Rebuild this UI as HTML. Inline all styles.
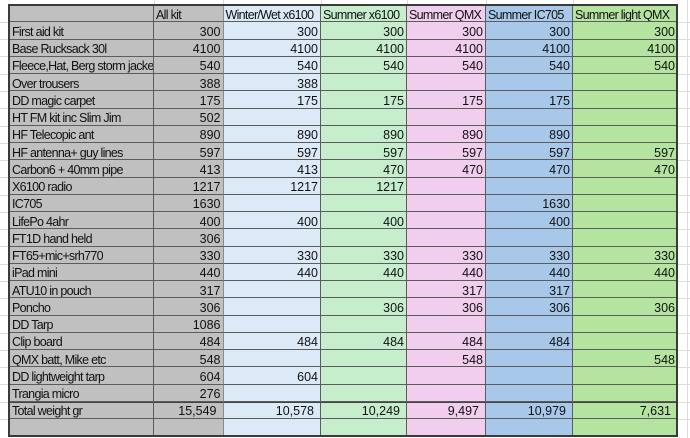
<!DOCTYPE html>
<html><head><meta charset="utf-8"><style>
html,body{margin:0;padding:0;background:#fff;}
body{width:690px;height:438px;position:relative;overflow:hidden;font-family:"Liberation Sans",Arial,sans-serif;color:#111;}
.gl{position:absolute;background:#dcdcdc;}
#grid{position:absolute;left:9px;top:5px;width:668px;height:432px;display:grid;
grid-template-columns:145px 69.5px 97.5px 86px 79px 87px 104px;grid-auto-rows:17.25px;overflow:hidden;}
#grid>div{box-sizing:border-box;border-bottom:1px solid #5c5c5c;border-right:1px solid #5c5c5c;overflow:hidden;white-space:nowrap;
padding:2.7px 2px 0 3px;line-height:15px;font-size:12.5px;letter-spacing:-0.7px;}
#grid>div:nth-child(7n+1){background:#c0c0c0;}
#grid>div:nth-child(7n+2){background:#c0c0c0;border-right-color:#8a8a8a;text-align:right;font-size:12.5px;letter-spacing:0;}
#grid>div:nth-child(7n+3){background:#dce9f7;text-align:right;font-size:12.5px;letter-spacing:0;}
#grid>div:nth-child(7n+4){background:#c6eecc;text-align:right;font-size:12.5px;letter-spacing:0;}
#grid>div:nth-child(7n+5){background:#f1cdee;text-align:right;font-size:12.5px;letter-spacing:0;}
#grid>div:nth-child(7n+6){background:#a8c8ea;text-align:right;font-size:12.5px;letter-spacing:0;}
#grid>div:nth-child(7n+7){background:#b5e4a0;text-align:right;font-size:12.5px;letter-spacing:0;border-right:none;}
#grid>div.h{text-align:left !important;font-size:12.5px !important;letter-spacing:-0.7px !important;padding-left:2px;}
#grid>div.t{padding-right:6px;}
#grid>div.tt{border-top:1px solid #444;padding-top:1.7px;}
#outer{position:absolute;left:8px;top:4px;width:670px;height:433px;box-sizing:border-box;border:2px solid #3a3a3a;}
</style></head><body>
<div class="gl" style="left:0;top:22px;width:9px;height:1px"></div>
<div class="gl" style="left:0;top:39px;width:9px;height:1px"></div>
<div class="gl" style="left:0;top:56px;width:9px;height:1px"></div>
<div class="gl" style="left:0;top:74px;width:9px;height:1px"></div>
<div class="gl" style="left:0;top:91px;width:9px;height:1px"></div>
<div class="gl" style="left:0;top:108px;width:9px;height:1px"></div>
<div class="gl" style="left:0;top:126px;width:9px;height:1px"></div>
<div class="gl" style="left:0;top:143px;width:9px;height:1px"></div>
<div class="gl" style="left:0;top:160px;width:9px;height:1px"></div>
<div class="gl" style="left:0;top:177px;width:9px;height:1px"></div>
<div class="gl" style="left:0;top:195px;width:9px;height:1px"></div>
<div class="gl" style="left:0;top:212px;width:9px;height:1px"></div>
<div class="gl" style="left:0;top:229px;width:9px;height:1px"></div>
<div class="gl" style="left:0;top:246px;width:9px;height:1px"></div>
<div class="gl" style="left:0;top:264px;width:9px;height:1px"></div>
<div class="gl" style="left:0;top:281px;width:9px;height:1px"></div>
<div class="gl" style="left:0;top:298px;width:9px;height:1px"></div>
<div class="gl" style="left:0;top:315px;width:9px;height:1px"></div>
<div class="gl" style="left:0;top:333px;width:9px;height:1px"></div>
<div class="gl" style="left:0;top:350px;width:9px;height:1px"></div>
<div class="gl" style="left:0;top:367px;width:9px;height:1px"></div>
<div class="gl" style="left:0;top:384px;width:9px;height:1px"></div>
<div class="gl" style="left:0;top:402px;width:9px;height:1px"></div>
<div class="gl" style="left:0;top:419px;width:9px;height:1px"></div>
<div class="gl" style="left:678px;top:22px;width:12px;height:1px"></div>
<div class="gl" style="left:678px;top:39px;width:12px;height:1px"></div>
<div class="gl" style="left:678px;top:56px;width:12px;height:1px"></div>
<div class="gl" style="left:678px;top:74px;width:12px;height:1px"></div>
<div class="gl" style="left:678px;top:91px;width:12px;height:1px"></div>
<div class="gl" style="left:678px;top:108px;width:12px;height:1px"></div>
<div class="gl" style="left:678px;top:126px;width:12px;height:1px"></div>
<div class="gl" style="left:678px;top:143px;width:12px;height:1px"></div>
<div class="gl" style="left:678px;top:160px;width:12px;height:1px"></div>
<div class="gl" style="left:678px;top:177px;width:12px;height:1px"></div>
<div class="gl" style="left:678px;top:195px;width:12px;height:1px"></div>
<div class="gl" style="left:678px;top:212px;width:12px;height:1px"></div>
<div class="gl" style="left:678px;top:229px;width:12px;height:1px"></div>
<div class="gl" style="left:678px;top:246px;width:12px;height:1px"></div>
<div class="gl" style="left:678px;top:264px;width:12px;height:1px"></div>
<div class="gl" style="left:678px;top:281px;width:12px;height:1px"></div>
<div class="gl" style="left:678px;top:298px;width:12px;height:1px"></div>
<div class="gl" style="left:678px;top:315px;width:12px;height:1px"></div>
<div class="gl" style="left:678px;top:333px;width:12px;height:1px"></div>
<div class="gl" style="left:678px;top:350px;width:12px;height:1px"></div>
<div class="gl" style="left:678px;top:367px;width:12px;height:1px"></div>
<div class="gl" style="left:678px;top:384px;width:12px;height:1px"></div>
<div class="gl" style="left:678px;top:402px;width:12px;height:1px"></div>
<div class="gl" style="left:678px;top:419px;width:12px;height:1px"></div>
<div class="gl" style="left:687px;top:0;width:1px;height:438px"></div>
<div class="gl" style="left:154px;top:0;width:1px;height:4px"></div>
<div class="gl" style="left:223px;top:0;width:1px;height:4px"></div>
<div class="gl" style="left:321px;top:0;width:1px;height:4px"></div>
<div class="gl" style="left:407px;top:0;width:1px;height:4px"></div>
<div class="gl" style="left:486px;top:0;width:1px;height:4px"></div>
<div class="gl" style="left:573px;top:0;width:1px;height:4px"></div>

<div id="grid">
<div></div><div class="h">All kit</div><div class="h">Winter/Wet x6100</div><div class="h">Summer x6100</div><div class="h">Summer QMX</div><div class="h">Summer IC705</div><div class="h">Summer light QMX</div>
<div>First aid kit</div><div>300</div><div>300</div><div>300</div><div>300</div><div>300</div><div>300</div>
<div>Base Rucksack 30l</div><div>4100</div><div>4100</div><div>4100</div><div>4100</div><div>4100</div><div>4100</div>
<div>Fleece,Hat, Berg storm jacket</div><div>540</div><div>540</div><div>540</div><div>540</div><div>540</div><div>540</div>
<div>Over trousers</div><div>388</div><div>388</div><div></div><div></div><div></div><div></div>
<div>DD magic carpet</div><div>175</div><div>175</div><div>175</div><div>175</div><div>175</div><div></div>
<div>HT FM kit inc Slim Jim</div><div>502</div><div></div><div></div><div></div><div></div><div></div>
<div>HF Telecopic ant</div><div>890</div><div>890</div><div>890</div><div>890</div><div>890</div><div></div>
<div>HF antenna+ guy lines</div><div>597</div><div>597</div><div>597</div><div>597</div><div>597</div><div>597</div>
<div>Carbon6 + 40mm pipe</div><div>413</div><div>413</div><div>470</div><div>470</div><div>470</div><div>470</div>
<div>X6100 radio</div><div>1217</div><div>1217</div><div>1217</div><div></div><div></div><div></div>
<div>IC705</div><div>1630</div><div></div><div></div><div></div><div>1630</div><div></div>
<div>LifePo 4ahr</div><div>400</div><div>400</div><div>400</div><div></div><div>400</div><div></div>
<div>FT1D hand held</div><div>306</div><div></div><div></div><div></div><div></div><div></div>
<div>FT65+mic+srh770</div><div>330</div><div>330</div><div>330</div><div>330</div><div>330</div><div>330</div>
<div>iPad mini</div><div>440</div><div>440</div><div>440</div><div>440</div><div>440</div><div>440</div>
<div>ATU10 in pouch</div><div>317</div><div></div><div></div><div>317</div><div>317</div><div></div>
<div>Poncho</div><div>306</div><div></div><div>306</div><div>306</div><div>306</div><div>306</div>
<div>DD Tarp</div><div>1086</div><div></div><div></div><div></div><div></div><div></div>
<div>Clip board</div><div>484</div><div>484</div><div>484</div><div>484</div><div>484</div><div></div>
<div>QMX batt, Mike etc</div><div>548</div><div></div><div></div><div>548</div><div></div><div>548</div>
<div>DD lightweight tarp</div><div>604</div><div>604</div><div></div><div></div><div></div><div></div>
<div>Trangia micro</div><div>276</div><div></div><div></div><div></div><div></div><div></div>
<div class="tt">Total weight gr</div><div class="t tt">15,549</div><div class="t tt">10,578</div><div class="t tt">10,249</div><div class="t tt">9,497</div><div class="t tt">10,979</div><div class="t tt">7,631</div>
<div></div><div></div><div></div><div></div><div></div><div></div><div></div>
</div>
<div id="outer"></div>
</body></html>
